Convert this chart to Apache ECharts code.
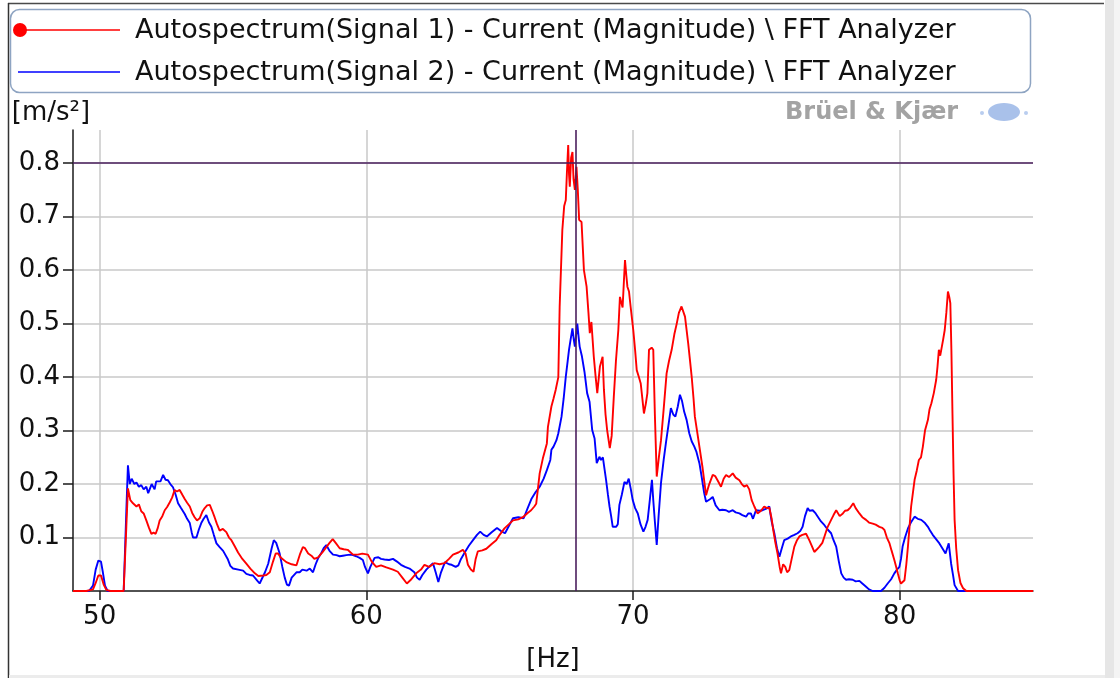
<!DOCTYPE html>
<html>
<head>
<meta charset="utf-8">
<script src="https://cdn.jsdelivr.net/npm/echarts@6/dist/echarts.min.js"></script>
<style>
  html, body { margin: 0; padding: 0; background: #ffffff; }
  #chart { width: 1120px; height: 678px; }
</style>
</head>
<body>
<div id="chart"></div>
<script>
// Autospectrum magnitudes, [frequency Hz, acceleration m/s²]
const signal1Spectrum = [
  [49.0,0],[49.5,0],[49.75,0.003],[49.85,0.015],[49.95,0.029],[50.05,0.029],[50.15,0.012],[50.25,0.002],[50.4,0],[50.9,0],
  [51.0,0.12],[51.06,0.192],[51.15,0.17],[51.25,0.164],[51.38,0.158],[51.47,0.162],[51.56,0.149],[51.65,0.145],[51.75,0.132],
  [51.85,0.118],[51.94,0.107],[52.02,0.109],[52.1,0.107],[52.18,0.118],[52.25,0.132],[52.35,0.14],[52.44,0.151],[52.53,0.157],
  [52.63,0.166],[52.72,0.175],[52.81,0.189],[52.9,0.186],[53.0,0.189],[53.1,0.18],[53.19,0.172],[53.28,0.165],[53.38,0.158],
  [53.47,0.146],[53.56,0.138],[53.65,0.132],[53.75,0.136],[53.85,0.148],[53.94,0.155],[54.03,0.16],[54.13,0.161],[54.22,0.15],
  [54.31,0.138],[54.4,0.125],[54.5,0.113],[54.62,0.116],[54.75,0.11],[54.85,0.1],[54.94,0.095],[55.05,0.085],[55.19,0.072],
  [55.35,0.06],[55.5,0.051],[55.65,0.042],[55.82,0.033],[55.95,0.028],[56.13,0.029],[56.25,0.03],[56.38,0.035],[56.5,0.055],
  [56.6,0.07],[56.69,0.07],[56.8,0.062],[57.0,0.054],[57.2,0.05],[57.38,0.048],[57.52,0.07],[57.62,0.082],[57.7,0.08],
  [57.82,0.07],[57.94,0.066],[58.05,0.06],[58.19,0.063],[58.35,0.072],[58.5,0.082],[58.62,0.09],[58.74,0.097],[58.85,0.09],
  [59.0,0.08],[59.15,0.078],[59.3,0.077],[59.5,0.068],[59.68,0.068],[59.85,0.07],[60.06,0.068],[60.2,0.055],[60.37,0.045],
  [60.55,0.048],[60.75,0.044],[61.0,0.04],[61.18,0.036],[61.35,0.025],[61.52,0.014],[61.65,0.02],[61.87,0.033],[62.05,0.04],
  [62.18,0.049],[62.35,0.045],[62.55,0.052],[62.75,0.05],[62.93,0.052],[63.1,0.06],[63.25,0.068],[63.45,0.072],[63.62,0.077],
  [63.72,0.07],[63.81,0.049],[63.92,0.04],[64.02,0.036],[64.1,0.06],[64.18,0.074],[64.35,0.076],[64.5,0.079],[64.7,0.088],
  [64.87,0.095],[65.0,0.105],[65.18,0.117],[65.35,0.125],[65.5,0.132],[65.7,0.134],[65.87,0.138],[66.05,0.146],[66.18,0.151],
  [66.3,0.158],[66.37,0.163],[66.43,0.189],[66.5,0.22],[66.62,0.248],[66.77,0.276],[66.81,0.307],[66.94,0.345],[67.02,0.36],
  [67.1,0.376],[67.2,0.4],[67.25,0.532],[67.35,0.675],[67.42,0.72],[67.48,0.731],[67.52,0.78],[67.57,0.834],[67.6,0.78],
  [67.63,0.756],[67.68,0.81],[67.73,0.821],[67.77,0.77],[67.82,0.75],[67.88,0.793],[67.93,0.75],[67.98,0.694],[68.07,0.69],
  [68.16,0.6],[68.26,0.569],[68.33,0.52],[68.38,0.482],[68.44,0.503],[68.53,0.438],[68.6,0.4],[68.66,0.37],[68.76,0.42],
  [68.86,0.438],[68.91,0.376],[68.97,0.33],[69.03,0.301],[69.13,0.267],[69.2,0.29],[69.28,0.363],[69.36,0.43],[69.45,0.488],
  [69.51,0.55],[69.56,0.54],[69.61,0.53],[69.66,0.58],[69.7,0.619],[69.75,0.59],[69.79,0.569],[69.85,0.56],[69.91,0.532],
  [70.01,0.488],[70.08,0.45],[70.14,0.413],[70.22,0.4],[70.29,0.388],[70.35,0.36],[70.41,0.332],[70.48,0.35],[70.54,0.37],
  [70.6,0.451],[70.7,0.455],[70.76,0.451],[70.82,0.33],[70.89,0.214],[70.97,0.25],[71.05,0.282],[71.15,0.34],[71.26,0.407],
  [71.35,0.43],[71.45,0.451],[71.55,0.48],[71.64,0.5],[71.72,0.52],[71.82,0.532],[71.88,0.53],[71.95,0.513],[72.07,0.463],
  [72.14,0.43],[72.2,0.401],[72.27,0.36],[72.32,0.326],[72.4,0.3],[72.49,0.27],[72.61,0.23],[72.74,0.179],[72.8,0.19],
  [72.86,0.2],[72.99,0.217],[73.08,0.215],[73.17,0.207],[73.3,0.195],[73.4,0.21],[73.49,0.217],[73.6,0.213],[73.74,0.22],
  [73.85,0.212],[73.99,0.207],[74.08,0.2],[74.17,0.195],[74.27,0.198],[74.36,0.19],[74.45,0.17],[74.55,0.158],[74.67,0.145],
  [74.8,0.15],[74.92,0.158],[75.02,0.155],[75.11,0.156],[75.2,0.135],[75.26,0.114],[75.34,0.09],[75.42,0.07],[75.5,0.045],
  [75.55,0.033],[75.63,0.05],[75.71,0.045],[75.78,0.035],[75.86,0.039],[75.95,0.06],[76.05,0.083],[76.15,0.095],[76.24,0.102],
  [76.35,0.105],[76.49,0.107],[76.61,0.095],[76.7,0.085],[76.8,0.073],[76.9,0.078],[76.99,0.083],[77.1,0.09],[77.18,0.102],
  [77.3,0.12],[77.43,0.133],[77.52,0.142],[77.62,0.151],[77.75,0.14],[77.87,0.145],[77.95,0.15],[78.05,0.151],[78.15,0.156],
  [78.26,0.164],[78.35,0.155],[78.49,0.145],[78.6,0.138],[78.74,0.133],[78.85,0.128],[78.99,0.126],[79.1,0.124],[79.24,0.12],
  [79.35,0.118],[79.43,0.114],[79.52,0.1],[79.62,0.089],[79.7,0.075],[79.8,0.058],[79.87,0.045],[79.93,0.033],[80.0,0.02],
  [80.05,0.014],[80.12,0.012],[80.18,0.02],[80.25,0.05],[80.31,0.083],[80.37,0.12],[80.43,0.158],[80.5,0.185],[80.56,0.208],
  [80.64,0.225],[80.72,0.245],[80.8,0.25],[80.87,0.27],[80.95,0.3],[81.06,0.32],[81.12,0.34],[81.19,0.351],[81.28,0.37],
  [81.37,0.395],[81.42,0.42],[81.47,0.451],[81.52,0.44],[81.56,0.44],[81.63,0.47],[81.69,0.488],[81.75,0.52],[81.81,0.56],
  [81.86,0.55],[81.9,0.538],[81.94,0.45],[81.98,0.332],[82.02,0.22],[82.06,0.133],[82.12,0.08],[82.19,0.039],[82.28,0.015],
  [82.38,0.005],[82.5,0],[85.0,0]
];

const signal2Spectrum = [
  [49.0,0],[49.6,0],[49.75,0.01],[49.85,0.04],[49.95,0.057],[50.05,0.055],[50.12,0.035],[50.2,0.01],[50.3,0],[50.9,0],
  [51.0,0.15],[51.06,0.235],[51.13,0.2],[51.2,0.21],[51.3,0.2],[51.38,0.203],[51.47,0.195],[51.56,0.198],[51.65,0.19],
  [51.75,0.195],[51.82,0.183],[51.88,0.18],[51.95,0.2],[52.06,0.19],[52.12,0.205],[52.19,0.207],[52.28,0.205],[52.38,0.217],
  [52.47,0.208],[52.56,0.207],[52.65,0.2],[52.75,0.194],[52.85,0.18],[52.94,0.164],[53.05,0.155],[53.19,0.144],[53.28,0.135],
  [53.38,0.127],[53.45,0.11],[53.5,0.1],[53.63,0.1],[53.72,0.115],[53.81,0.127],[53.9,0.135],[54.0,0.142],[54.1,0.128],
  [54.19,0.12],[54.28,0.105],[54.38,0.089],[54.5,0.082],[54.63,0.075],[54.8,0.06],[54.9,0.047],[55.0,0.042],[55.2,0.04],
  [55.38,0.038],[55.5,0.032],[55.62,0.03],[55.75,0.029],[55.9,0.02],[56.0,0.014],[56.07,0.016],[56.2,0.035],[56.32,0.051],
  [56.45,0.08],[56.53,0.095],[56.62,0.09],[56.75,0.07],[56.85,0.045],[56.94,0.025],[57.02,0.012],[57.1,0.01],[57.2,0.025],
  [57.38,0.035],[57.5,0.035],[57.6,0.04],[57.76,0.038],[57.88,0.042],[58.0,0.035],[58.1,0.05],[58.19,0.061],[58.3,0.07],
  [58.4,0.08],[58.5,0.086],[58.62,0.075],[58.75,0.068],[58.88,0.067],[59.0,0.065],[59.12,0.066],[59.25,0.067],[59.4,0.068],
  [59.5,0.067],[59.62,0.065],[59.75,0.062],[59.87,0.058],[59.95,0.045],[60.06,0.033],[60.15,0.045],[60.31,0.062],[60.45,0.063],
  [60.55,0.06],[60.68,0.059],[60.85,0.058],[61.0,0.06],[61.15,0.055],[61.3,0.049],[61.45,0.045],[61.62,0.042],[61.8,0.035],
  [61.9,0.025],[62.0,0.021],[62.1,0.03],[62.25,0.04],[62.35,0.045],[62.5,0.052],[62.6,0.035],[62.7,0.017],[62.8,0.035],
  [62.95,0.054],[63.1,0.05],[63.2,0.049],[63.35,0.045],[63.45,0.048],[63.55,0.06],[63.7,0.073],[63.85,0.085],[64.0,0.095],
  [64.15,0.105],[64.27,0.111],[64.4,0.105],[64.52,0.102],[64.7,0.11],[64.9,0.118],[65.05,0.112],[65.2,0.108],[65.35,0.122],
  [65.5,0.136],[65.7,0.138],[65.9,0.136],[66.05,0.155],[66.2,0.173],[66.35,0.185],[66.5,0.195],[66.65,0.21],[66.77,0.226],
  [66.9,0.245],[66.94,0.264],[67.02,0.27],[67.13,0.282],[67.2,0.295],[67.32,0.326],[67.4,0.36],[67.48,0.401],[67.55,0.43],
  [67.6,0.451],[67.66,0.47],[67.73,0.491],[67.78,0.47],[67.82,0.457],[67.87,0.48],[67.91,0.5],[67.96,0.475],[68.0,0.457],
  [68.08,0.44],[68.18,0.41],[68.28,0.37],[68.37,0.354],[68.47,0.301],[68.56,0.285],[68.64,0.239],[68.74,0.251],[68.8,0.245],
  [68.87,0.25],[68.99,0.208],[69.06,0.18],[69.12,0.158],[69.18,0.14],[69.24,0.12],[69.37,0.12],[69.43,0.125],[69.49,0.161],
  [69.58,0.18],[69.68,0.204],[69.76,0.2],[69.84,0.21],[69.92,0.19],[69.99,0.17],[70.08,0.155],[70.18,0.145],[70.28,0.125],
  [70.39,0.111],[70.47,0.12],[70.55,0.133],[70.63,0.17],[70.71,0.208],[70.76,0.17],[70.82,0.13],[70.89,0.086],[70.96,0.14],
  [71.05,0.202],[71.15,0.245],[71.24,0.279],[71.33,0.31],[71.42,0.342],[71.51,0.33],[71.59,0.326],[71.68,0.345],[71.76,0.367],
  [71.84,0.355],[71.92,0.335],[72.01,0.32],[72.11,0.295],[72.2,0.28],[72.3,0.27],[72.38,0.26],[72.49,0.239],[72.57,0.215],
  [72.67,0.183],[72.74,0.167],[72.8,0.17],[72.9,0.172],[72.99,0.176],[73.1,0.16],[73.24,0.151],[73.35,0.152],[73.49,0.151],
  [73.6,0.148],[73.74,0.151],[73.85,0.147],[73.99,0.145],[74.1,0.142],[74.24,0.139],[74.32,0.145],[74.42,0.145],[74.5,0.135],
  [74.61,0.151],[74.75,0.15],[74.86,0.151],[75.0,0.154],[75.11,0.158],[75.2,0.13],[75.3,0.108],[75.4,0.08],[75.49,0.064],
  [75.58,0.08],[75.67,0.095],[75.8,0.098],[75.92,0.102],[76.05,0.105],[76.17,0.108],[76.27,0.112],[76.36,0.12],[76.45,0.14],
  [76.55,0.155],[76.62,0.15],[76.74,0.151],[76.85,0.145],[76.93,0.139],[77.05,0.13],[77.18,0.123],[77.3,0.115],[77.43,0.108],
  [77.52,0.095],[77.62,0.083],[77.72,0.055],[77.81,0.033],[77.9,0.025],[77.99,0.021],[78.1,0.022],[78.24,0.021],[78.35,0.018],
  [78.49,0.019],[78.6,0.014],[78.74,0.008],[78.85,0.003],[78.99,0],[79.15,0],[79.3,0],[79.43,0.006],[79.55,0.014],
  [79.68,0.022],[79.8,0.033],[79.9,0.04],[79.99,0.045],[80.05,0.06],[80.11,0.083],[80.2,0.1],[80.31,0.117],[80.42,0.128],
  [80.56,0.139],[80.68,0.135],[80.81,0.133],[80.95,0.127],[81.06,0.12],[81.15,0.112],[81.24,0.105],[81.35,0.098],[81.49,0.089],
  [81.6,0.08],[81.72,0.07],[81.78,0.08],[81.84,0.089],[81.93,0.051],[82.0,0.03],[82.06,0.011],[82.19,0],[85.0,0]
];

const seriesNames = [
  'Autospectrum(Signal 1) - Current (Magnitude) \\ FFT Analyzer',
  'Autospectrum(Signal 2) - Current (Magnitude) \\ FFT Analyzer'
];
const seriesColors = ['#ff0000', '#0000ff'];
const xTickValues = [50, 60, 70, 80];
const yTickValues = [0.1, 0.2, 0.3, 0.4, 0.5, 0.6, 0.7, 0.8];
const xRange = [49, 85];
const yRange = [0, 0.862];
const cursorFrequency = 67.87;
const cursorLevel = 0.8;
const xAxisName = '[Hz]';
const yAxisName = '[m/s²]';
const brandName = 'Brüel & Kjær';

const FONT = 'DejaVu Sans, Verdana, sans-serif';
const chart = echarts.init(document.getElementById('chart'), null, { renderer: 'canvas' });

const axisLineStyle = { color: '#1a1a1a', width: 1.5 };
const gridLineStyle = { color: '#c8c8c8', width: 1.5 };
const tickText = { fontSize: 26, color: '#111111', fontFamily: FONT };

chart.setOption({
  animation: false,
  backgroundColor: '#ffffff',
  grid: { left: 73, right: 87, top: 130, bottom: 87, containLabel: false, outerBoundsMode: 'none' },
  xAxis: {
    type: 'value',
    min: xRange[0],
    max: xRange[1],
    name: xAxisName,
    nameLocation: 'middle',
    nameGap: 56,
    nameTextStyle: tickText,
    axisLine: { lineStyle: axisLineStyle },
    axisTick: { show: true, customValues: xTickValues, length: 9, lineStyle: { color: '#1a1a1a', width: 1.5 } },
    axisLabel: { customValues: xTickValues, margin: 13, ...tickText },
    splitLine: { show: true, lineStyle: gridLineStyle }
  },
  yAxis: {
    type: 'value',
    min: yRange[0],
    max: yRange[1],
    name: yAxisName,
    nameLocation: 'end',
    nameGap: 4,
    nameTextStyle: { ...tickText, align: 'center', padding: [0, 44, 0, 0] },
    axisLine: { show: true, lineStyle: axisLineStyle },
    axisTick: { show: true, customValues: yTickValues, length: 10, lineStyle: { color: '#1a1a1a', width: 1.5 } },
    axisLabel: { customValues: yTickValues, margin: 13, formatter: v => v.toFixed(1), ...tickText },
    splitLine: { show: true, lineStyle: gridLineStyle }
  },
  series: [
    {
      name: seriesNames[1],
      type: 'line',
      data: signal2Spectrum,
      showSymbol: false,
      symbol: 'none',
      z: 2,
      lineStyle: { color: seriesColors[1], width: 1.9 },
      itemStyle: { color: seriesColors[1] }
    },
    {
      name: seriesNames[0],
      type: 'line',
      data: signal1Spectrum,
      showSymbol: false,
      symbol: 'none',
      z: 3,
      lineStyle: { color: seriesColors[0], width: 1.9 },
      itemStyle: { color: seriesColors[0] },
      markLine: {
        silent: true,
        symbol: ['none', 'none'],
        label: { show: false },
        lineStyle: { color: '#4b1f5e', width: 1.6, type: 'solid' },
        data: [{ yAxis: cursorLevel }, { xAxis: cursorFrequency }]
      }
    }
  ],
  graphic: [
    // window frame
    { type: 'line', silent: true, shape: { x1: 8, y1: 3.5, x2: 1104, y2: 3.5 }, style: { stroke: '#4a4a4a', lineWidth: 1.5 } },
    { type: 'line', silent: true, shape: { x1: 8.5, y1: 3, x2: 8.5, y2: 678 }, style: { stroke: '#333333', lineWidth: 1.5 } },
    { type: 'rect', silent: true, shape: { x: 1105, y: 0, width: 9, height: 678 }, style: { fill: '#e6e6e6' } },
    { type: 'rect', silent: true, shape: { x: 1114, y: 0, width: 6, height: 678 }, style: { fill: '#f4f4f4' } },
    { type: 'rect', silent: true, shape: { x: 9, y: 675, width: 1096, height: 3 }, style: { fill: '#ececec' } },
    // legend box
    { type: 'rect', silent: true, shape: { x: 10.5, y: 9.5, width: 1020, height: 83, r: 9 }, style: { fill: 'none', stroke: '#8ea4c2', lineWidth: 1.5 } },
    { type: 'line', silent: true, shape: { x1: 18, y1: 30, x2: 120, y2: 30 }, style: { stroke: seriesColors[0], lineWidth: 1.5 } },
    { type: 'circle', silent: true, shape: { cx: 20, cy: 30, r: 7 }, style: { fill: seriesColors[0] } },
    { type: 'text', silent: true, x: 135, y: 31, style: { text: seriesNames[0], font: '27px ' + FONT, fill: '#111111', verticalAlign: 'middle' } },
    { type: 'line', silent: true, shape: { x1: 18, y1: 72, x2: 120, y2: 72 }, style: { stroke: seriesColors[1], lineWidth: 1.5 } },
    { type: 'text', silent: true, x: 135, y: 73, style: { text: seriesNames[1], font: '27px ' + FONT, fill: '#111111', verticalAlign: 'middle' } },
    // brand mark
    { type: 'text', silent: true, x: 785, y: 113, style: { text: brandName, font: 'bold 24px ' + FONT, fill: '#a3a3a3', verticalAlign: 'middle' } },
    { type: 'ellipse', silent: true, shape: { cx: 1004, cy: 112, rx: 16, ry: 9 }, style: { fill: '#a9c1ea' } },
    { type: 'circle', silent: true, shape: { cx: 982, cy: 113, r: 2 }, style: { fill: '#b9cdef' } },
    { type: 'circle', silent: true, shape: { cx: 1026, cy: 113, r: 2 }, style: { fill: '#b9cdef' } }
  ]
});
</script>
</body>
</html>
